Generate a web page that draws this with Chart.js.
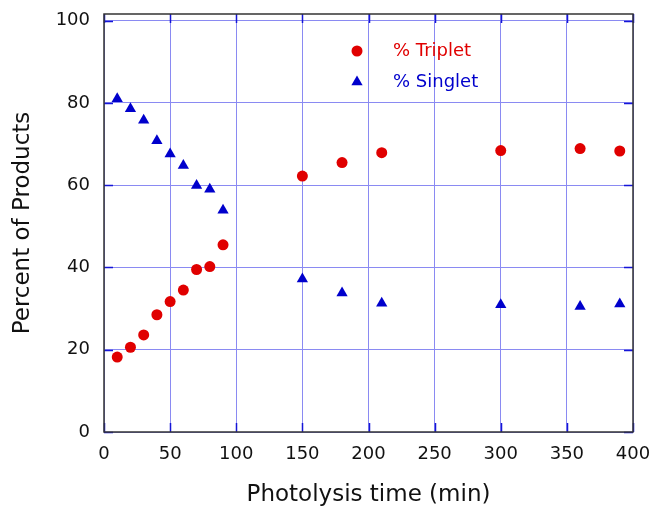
<!DOCTYPE html>
<html>
<head>
<meta charset="utf-8">
<script src="https://cdn.jsdelivr.net/npm/chart.js@4/dist/chart.umd.min.js"></script>
<style>
  html, body { margin: 0; padding: 0; background: #fff; }
</style>
</head>
<body>
<canvas id="chart" width="656" height="509"></canvas>
<script>
// photolysis time (min)
const times = [10, 20, 30, 40, 50, 60, 70, 80, 90, 150, 180, 210, 300, 360, 390];
// percent of products
const tripletPct = [18.2, 20.6, 23.6, 28.5, 31.7, 34.5, 39.5, 40.2, 45.5, 62.2, 65.5, 67.9, 68.4, 68.9, 68.3];
const singletPct = [81.0, 78.6, 75.8, 70.8, 67.6, 64.8, 59.9, 59.0, 53.9, 37.2, 33.8, 31.3, 30.9, 30.5, 31.1];
const xTicks = [0, 50, 100, 150, 200, 250, 300, 350, 400];
const yTicks = [0, 20, 40, 60, 80, 100];

const RED = '#e00000';
const BLUE = '#0000cc';
const FONT = 'DejaVu Sans';

function toPoints(xs, ys) {
    return xs.map((t, i) => ({ x: t, y: ys[i] }));
}

// blue tick marks pointing inward on all four sides, plus the black frame
const framePlugin = {
    id: 'frame',
    beforeDatasetsDraw(chart) {
        const { ctx, chartArea: a, scales: { x, y } } = chart;
        const len = 9;
        ctx.save();
        ctx.strokeStyle = '#1515d8';
        ctx.lineWidth = 1.5;
        ctx.beginPath();
        xTicks.forEach(v => {
            const px = Math.round(x.getPixelForValue(v)) + 0.5;
            ctx.moveTo(px, a.bottom); ctx.lineTo(px, a.bottom - len);
            ctx.moveTo(px, a.top); ctx.lineTo(px, a.top + len);
        });
        yTicks.forEach(v => {
            const py = Math.round(y.getPixelForValue(v)) + 0.5;
            ctx.moveTo(a.left, py); ctx.lineTo(a.left + len, py);
            ctx.moveTo(a.right, py); ctx.lineTo(a.right - len, py);
        });
        ctx.stroke();
        ctx.restore();
    },
    afterDatasetsDraw(chart) {
        const { ctx, chartArea: a } = chart;
        ctx.save();
        ctx.strokeStyle = '#333';
        ctx.lineWidth = 1.5;
        ctx.strokeRect(a.left, a.top, a.right - a.left, a.bottom - a.top);
        ctx.restore();
    }
};

// legend drawn inside the plot area
const insideLegend = {
    id: 'insideLegend',
    afterDraw(chart) {
        const { ctx, chartArea: a } = chart;
        const mx = a.left + 253, tx = a.left + 289;
        let yy = a.top + 37;
        ctx.save();
        ctx.font = '18px "' + FONT + '"';
        ctx.textBaseline = 'middle';
        ctx.textAlign = 'left';
        chart.data.datasets.forEach(ds => {
            ctx.fillStyle = ds.backgroundColor;
            ctx.strokeStyle = ds.borderColor;
            Chart.helpers.drawPoint(ctx, {
                pointStyle: ds.pointStyle, radius: ds.pointRadius, rotation: 0, borderWidth: 0
            }, mx, yy);
            ctx.fillStyle = ds.backgroundColor;
            ctx.fillText(ds.label, tx, yy);
            yy += 31;
        });
        ctx.restore();
    }
};

const data = {
    datasets: [
        {
            label: '% Triplet',
            data: toPoints(times, tripletPct),
            pointStyle: 'circle',
            pointRadius: 5.5,
            borderWidth: 0,
            backgroundColor: RED,
            borderColor: RED,
            showLine: false
        },
        {
            label: '% Singlet',
            data: toPoints(times, singletPct),
            pointStyle: 'triangle',
            pointRadius: 6.5,
            borderWidth: 0,
            backgroundColor: BLUE,
            borderColor: BLUE,
            showLine: false
        }
    ]
};

const config = {
    type: 'scatter',
    data: data,
    options: {
        responsive: false,
        animation: false,
        layout: { padding: { left: 0, right: 23, top: 14, bottom: 0 } },
        plugins: {
            legend: { display: false },
            tooltip: { enabled: false }
        },
        scales: {
            x: {
                type: 'linear',
                min: 0,
                max: 400,
                afterFit(scale) {
                    scale.height = 77;
                    scale.paddingLeft = 0;
                    scale.paddingRight = 0;
                },
                afterBuildTicks(scale) { scale.ticks = xTicks.map(v => ({ value: v })); },
                grid: { color: '#8a8af2', lineWidth: 1, drawTicks: false },
                border: { display: false },
                ticks: {
                    padding: 12,
                    color: '#111',
                    font: { family: FONT, size: 18 }
                },
                title: {
                    display: true,
                    text: 'Photolysis time (min)',
                    color: '#111',
                    font: { family: FONT, size: 23 },
                    padding: { top: 0, bottom: 0 }
                }
            },
            y: {
                type: 'linear',
                min: 0,
                max: 101.6,
                afterFit(scale) {
                    scale.width = 104;
                    scale.paddingTop = 0;
                    scale.paddingBottom = 0;
                },
                afterBuildTicks(scale) { scale.ticks = yTicks.map(v => ({ value: v })); },
                grid: { color: '#8a8af2', lineWidth: 1, drawTicks: false },
                border: { display: false },
                ticks: {
                    padding: 14,
                    color: '#111',
                    font: { family: FONT, size: 18 }
                },
                title: {
                    display: true,
                    text: 'Percent of Products',
                    color: '#111',
                    font: { family: FONT, size: 23 },
                    padding: { top: 9, bottom: 0 }
                }
            }
        }
    },
    plugins: [framePlugin, insideLegend]
};

const myChart = new Chart(document.getElementById('chart'), config);
</script>
</body>
</html>
